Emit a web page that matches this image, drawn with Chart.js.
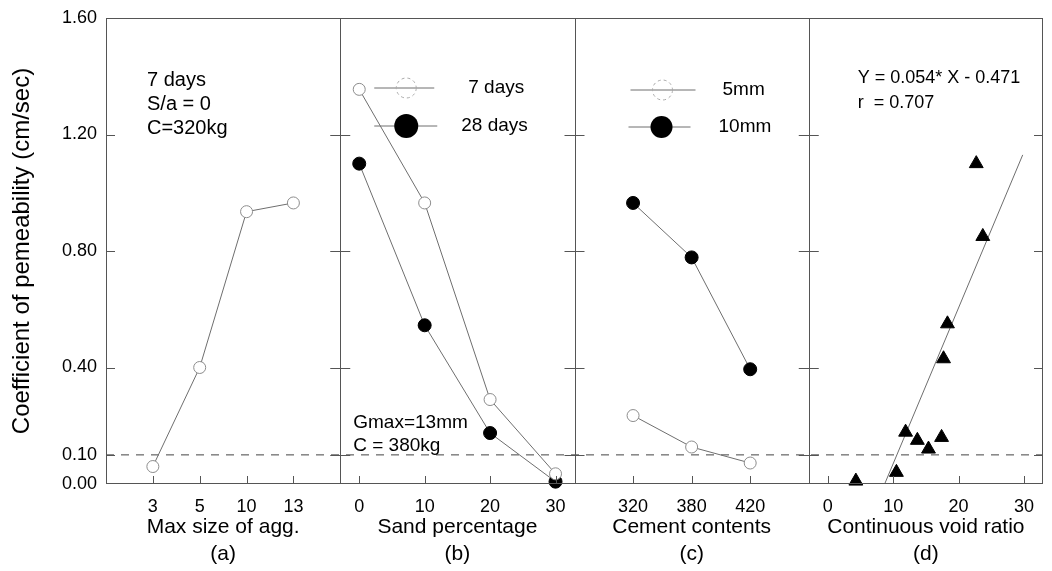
<!DOCTYPE html>
<html>
<head>
<meta charset="utf-8">
<script src="https://cdn.jsdelivr.net/npm/chart.js@4"></script>
<style>
  html, body { margin: 0; padding: 0; background: #fff; }
</style>
</head>
<body>
<canvas id="permChart" width="1052" height="571"></canvas>
<script>
/*******************************************************
 * DATA
 *******************************************************/
const Y_TICKS = [0, 0.1, 0.4, 0.8, 1.2, 1.6];
const REF_LINE = 0.1;

// (a) max size of aggregate, 7 days
const AGG_LABELS = ["3", "5", "10", "13"];
const AGG_7DAYS = [0.06, 0.40, 0.935, 0.965];

// (b) sand percentage
const SAND_X = [0, 10, 20, 30];
const SAND_7DAYS = [1.355, 0.965, 0.29, 0.035];
const SAND_28DAYS = [1.10, 0.545, 0.175, 0.008];

// (c) cement contents
const CEMENT_LABELS = ["320", "380", "420"];
const CEMENT_5MM = [0.235, 0.127, 0.072];
const CEMENT_10MM = [0.965, 0.778, 0.394];

// (d) continuous void ratio
const VOID_TICKS = [0, 10, 20, 30];
const VOID_X = [4.3, 10.5, 11.9, 13.7, 15.4, 17.4, 17.7, 18.3, 23.7, 22.7];
const VOID_Y = [0.01, 0.04, 0.178, 0.15, 0.12, 0.16, 0.43, 0.55, 0.85, 1.10];
const FIT_X = [8.7, 29.8];
const FIT_Y = [0, 1.13];

/*******************************************************
 * STYLE HELPERS
 *******************************************************/
const FONT = '"Liberation Sans", Arial, sans-serif';
const LINE_GRAY = "#6e6e6e";

const openStyle = {
  borderColor: LINE_GRAY,
  borderWidth: 1,
  pointStyle: "circle",
  pointRadius: 6,
  pointBorderColor: "#8c8c8c",
  pointBackgroundColor: "#fff",
  pointBorderWidth: 1,
  tension: 0,
  clip: false
};

const filledStyle = {
  borderColor: LINE_GRAY,
  borderWidth: 1,
  pointStyle: "circle",
  pointRadius: 6.5,
  pointBorderColor: "#000",
  pointBackgroundColor: "#000",
  tension: 0,
  clip: false
};

function xAxis(min, max, tickValues, labelFn, title) {
  return {
    type: "linear",
    position: "bottom",
    stack: "panels",
    stackWeight: 1,
    min: min,
    max: max,
    afterBuildTicks: s => { s.ticks = tickValues.map(v => ({ value: v })); },
    afterFit: s => {
      s.height = 87;
      // panels sit edge to edge, no label overflow room needed
      s.paddingLeft = 0;
      s.paddingRight = 0;
    },
    ticks: {
      autoSkip: false,
      maxRotation: 0,
      padding: 12,
      color: "#000",
      font: { family: FONT, size: 18 },
      callback: v => labelFn(v)
    },
    grid: { display: false, drawTicks: false },
    border: { display: false },
    title: {
      display: true,
      text: title,
      color: "#000",
      font: { family: FONT, size: 21, lineHeight: 1.25 },
      padding: { top: 0, bottom: 4 }
    }
  };
}

/*******************************************************
 * FRAME, TICKS, NOTES AND IN-PANEL LEGENDS
 *******************************************************/
const panelDecor = {
  id: "panelDecor",
  beforeDatasetsDraw(chart) {
    const { ctx, chartArea: a, scales } = chart;
    const yRef = scales.y.getPixelForValue(REF_LINE);
    ctx.save();
    ctx.strokeStyle = "#444";
    ctx.lineWidth = 1;
    ctx.setLineDash([8, 7]);
    ctx.beginPath();
    ctx.moveTo(a.left, yRef);
    ctx.lineTo(a.right, yRef);
    ctx.stroke();
    ctx.restore();
  },
  afterDraw(chart) {
    const { ctx, chartArea: a, scales } = chart;
    const panels = ["xa", "xb", "xc", "xd"].map(k => scales[k]);
    ctx.save();

    // frame + dividers
    ctx.strokeStyle = "#555";
    ctx.lineWidth = 1;
    ctx.strokeRect(a.left + 0.5, a.top + 0.5, a.width - 1, a.height - 1);
    ctx.beginPath();
    panels.slice(0, 3).forEach(p => {
      const x = Math.round(p.right) + 0.5;
      ctx.moveTo(x, a.top);
      ctx.lineTo(x, a.bottom);
    });
    ctx.stroke();

    // x tick marks point up into the panel
    ctx.beginPath();
    panels.forEach(p => {
      p.ticks.forEach(t => {
        const x = Math.round(p.getPixelForValue(t.value)) + 0.5;
        ctx.moveTo(x, a.bottom);
        ctx.lineTo(x, a.bottom - 8);
      });
    });
    // y tick marks: inside at left/right, crossing at dividers
    Y_TICKS.slice(1, -1).forEach(v => {
      const y = Math.round(scales.y.getPixelForValue(v)) + 0.5;
      ctx.moveTo(a.left, y);
      ctx.lineTo(a.left + 9, y);
      panels.slice(0, 3).forEach(p => {
        ctx.moveTo(p.right - 10, y);
        ctx.lineTo(p.right + 10, y);
      });
      ctx.moveTo(a.right - 9, y);
      ctx.lineTo(a.right, y);
    });
    ctx.stroke();

    // notes
    ctx.fillStyle = "#000";
    ctx.textBaseline = "middle";
    ctx.textAlign = "left";
    const pa = panels[0], pb = panels[1], pc = panels[2], pd = panels[3];

    ctx.font = "20px " + FONT;
    ctx.fillText("7 days", pa.left + 41, 80);
    ctx.fillText("S/a = 0", pa.left + 41, 104);
    ctx.fillText("C=320kg", pa.left + 41, 128);

    ctx.font = "19px " + FONT;
    ctx.fillText("Gmax=13mm", pb.left + 13, 423);
    ctx.fillText("C = 380kg", pb.left + 13, 446);

    ctx.font = "18px " + FONT;
    ctx.fillText("Y = 0.054* X - 0.471", pd.left + 49, 78);
    ctx.fillText("r  = 0.707", pd.left + 49, 103);

    // legend helper
    function legendRow(x0, x1, xm, y, filled, r, label, tx) {
      ctx.strokeStyle = LINE_GRAY;
      ctx.lineWidth = 1;
      ctx.beginPath();
      ctx.moveTo(x0, y);
      ctx.lineTo(x1, y);
      ctx.stroke();
      ctx.beginPath();
      ctx.arc(xm, y, r, 0, Math.PI * 2);
      if (filled) {
        ctx.fillStyle = "#000";
        ctx.fill();
      } else {
        ctx.strokeStyle = "#aaa";
        ctx.setLineDash([3, 3]);
        ctx.stroke();
        ctx.setLineDash([]);
      }
      ctx.fillStyle = "#000";
      ctx.font = "19px " + FONT;
      ctx.fillText(label, tx, y);
    }
    legendRow(pb.left + 34, pb.left + 94, pb.left + 66, 88, false, 10, "7 days", pb.left + 128);
    legendRow(pb.left + 34, pb.left + 97, pb.left + 66, 126, true, 12, "28 days", pb.left + 121);
    legendRow(pc.left + 56, pc.left + 121, pc.left + 88, 90, false, 10, "5mm", pc.left + 148);
    legendRow(pc.left + 54, pc.left + 116, pc.left + 87, 127, true, 11, "10mm", pc.left + 144);

    ctx.restore();
  }
};

/*******************************************************
 * CHART
 *******************************************************/
const ctx = document.getElementById("permChart").getContext("2d");

new Chart(ctx, {
  type: "line",
  data: {
    datasets: [
      Object.assign({ label: "7 days", xAxisID: "xa", yAxisID: "y",
        data: AGG_7DAYS.map((v, i) => ({ x: i + 1, y: v })) }, openStyle),
      Object.assign({ label: "7 days", xAxisID: "xb", yAxisID: "y",
        data: SAND_X.map((x, i) => ({ x: x, y: SAND_7DAYS[i] })) }, openStyle),
      Object.assign({ label: "28 days", xAxisID: "xb", yAxisID: "y",
        data: SAND_X.map((x, i) => ({ x: x, y: SAND_28DAYS[i] })) }, filledStyle),
      Object.assign({ label: "5mm", xAxisID: "xc", yAxisID: "y",
        data: CEMENT_5MM.map((v, i) => ({ x: i + 1, y: v })) }, openStyle),
      Object.assign({ label: "10mm", xAxisID: "xc", yAxisID: "y",
        data: CEMENT_10MM.map((v, i) => ({ x: i + 1, y: v })) }, filledStyle),
      {
        label: "void ratio", xAxisID: "xd", yAxisID: "y",
        data: VOID_X.map((x, i) => ({ x: x, y: VOID_Y[i] })),
        showLine: false,
        pointStyle: "triangle",
        pointRadius: 8,
        pointBackgroundColor: "#000",
        pointBorderColor: "#000",
        clip: false
      },
      {
        label: "fit", xAxisID: "xd", yAxisID: "y",
        data: FIT_X.map((x, i) => ({ x: x, y: FIT_Y[i] })),
        borderColor: LINE_GRAY,
        borderWidth: 1,
        pointRadius: 0
      }
    ]
  },
  options: {
    responsive: false,
    animation: false,
    layout: { padding: { top: 18, right: 0, bottom: 0, left: 0 } },
    plugins: { legend: { display: false }, tooltip: { enabled: false } },
    scales: {
      y: {
        type: "linear",
        position: "left",
        min: 0,
        max: 1.6,
        afterBuildTicks: s => { s.ticks = Y_TICKS.map(v => ({ value: v })); },
        afterFit: s => {
          s.width = 106;
          s.paddingTop = 0;
          s.paddingBottom = 0;
        },
        ticks: {
          padding: 9,
          color: "#000",
          font: { family: FONT, size: 18 },
          callback: v => v.toFixed(2)
        },
        grid: { display: false, drawTicks: false },
        border: { display: false },
        title: {
          display: true,
          text: "Coefficient of pemeability (cm/sec)",
          color: "#000",
          font: { family: FONT, size: 24 },
          padding: { top: 8, bottom: 0 }
        }
      },
      xa: xAxis(0, 5, [1, 2, 3, 4], v => AGG_LABELS[v - 1], ["Max size of agg.", "(a)"]),
      xb: xAxis(-2.9, 32.9, SAND_X, v => String(v), ["Sand percentage", "(b)"]),
      xc: xAxis(0, 4, [1, 2, 3], v => CEMENT_LABELS[v - 1], ["Cement contents", "(c)"]),
      xd: xAxis(-2.9, 32.9, VOID_TICKS, v => String(v), ["Continuous void ratio", "(d)"])
    }
  },
  plugins: [panelDecor]
});
</script>
</body>
</html>
